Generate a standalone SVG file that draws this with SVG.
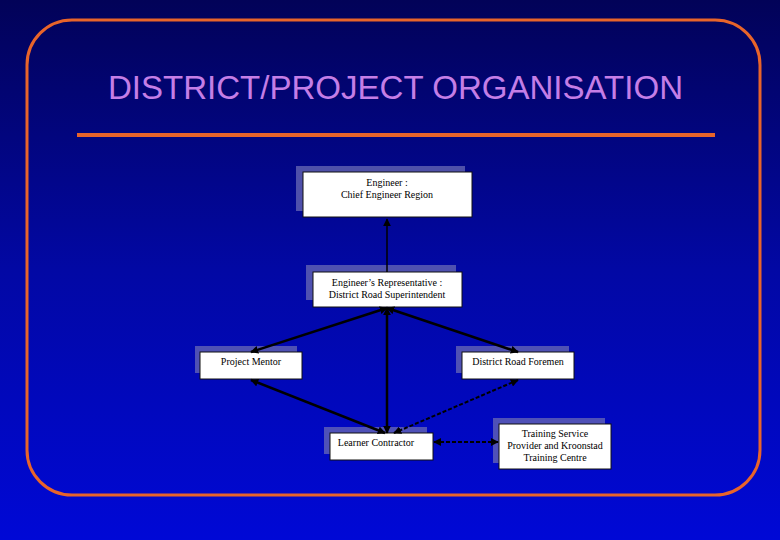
<svg xmlns="http://www.w3.org/2000/svg" width="780" height="540" viewBox="0 0 780 540">
<defs>
  <linearGradient id="bg" x1="0" y1="0" x2="0" y2="1">
    <stop offset="0" stop-color="#020258"/>
    <stop offset="0.5" stop-color="#0208a4"/>
    <stop offset="1" stop-color="#0008d6"/>
  </linearGradient>
  <marker id="ah" viewBox="0 0 10 10" refX="9" refY="5" markerWidth="8" markerHeight="8" markerUnits="userSpaceOnUse" orient="auto-start-reverse">
    <path d="M0,0 L10,5 L0,10 z" fill="#000"/>
  </marker>
  <style>
    .shadow{fill:#6a6ab4;opacity:0.75}
    .box{fill:#fff;stroke:#111;stroke-width:1}
    .lbl{font-family:"Liberation Serif","Times New Roman",serif;font-size:10px;fill:#000;text-anchor:middle}
    .c{fill:none;stroke:#000;stroke-width:2.5}
    .thin{fill:none;stroke:#000;stroke-width:1.5}
    .dash{fill:none;stroke:#000;stroke-width:2;stroke-dasharray:4 2}
  </style>
</defs>
<rect x="0" y="0" width="780" height="540" fill="url(#bg)"/>
<rect x="27" y="20" width="733" height="475" rx="45" ry="45" fill="none" stroke="#e8642a" stroke-width="3"/>
<text x="395.5" y="99" font-family="'Liberation Sans', Arial, sans-serif" font-size="32.5" fill="#c47ee6" text-anchor="middle" textLength="575" lengthAdjust="spacingAndGlyphs">DISTRICT/PROJECT ORGANISATION</text>
<line x1="77" y1="135" x2="715" y2="135" stroke="#e8642a" stroke-width="4"/>

<g id="engineer">
  <rect class="shadow" x="296" y="166" width="169" height="45"/>
  <rect class="box" x="303" y="172" width="169" height="45"/>
  <text class="lbl" x="387" y="186">Engineer :</text>
  <text class="lbl" x="387" y="198">Chief Engineer Region</text>
</g>
<g id="engineers-rep">
  <rect class="shadow" x="306" y="265" width="150" height="35"/>
  <rect class="box" x="313" y="272" width="149" height="35"/>
  <text class="lbl" x="387" y="286">Engineer’s Representative :</text>
  <text class="lbl" x="387" y="298">District Road Superintendent</text>
</g>
<g id="project-mentor">
  <rect class="shadow" x="195" y="346" width="102" height="27"/>
  <rect class="box" x="200" y="352" width="102" height="27"/>
  <text class="lbl" x="251" y="365">Project Mentor</text>
</g>
<g id="district-road-foremen">
  <rect class="shadow" x="456" y="346" width="113" height="27"/>
  <rect class="box" x="462" y="352" width="112" height="27"/>
  <text class="lbl" x="518" y="365">District Road Foremen</text>
</g>
<g id="learner-contractor">
  <rect class="shadow" x="324" y="427" width="103" height="27"/>
  <rect class="box" x="330" y="433" width="103" height="27"/>
  <text class="lbl" x="376" y="446">Learner Contractor</text>
</g>
<g id="training-provider">
  <rect class="shadow" x="493" y="418" width="112" height="45"/>
  <rect class="box" x="499" y="424" width="112" height="45"/>
  <text class="lbl" x="555" y="437">Training Service</text>
  <text class="lbl" x="555" y="449">Provider and Kroonstad</text>
  <text class="lbl" x="555" y="461">Training Centre</text>
</g>

<g id="connectors">
  <line class="thin" x1="387" y1="272" x2="387" y2="219" marker-end="url(#ah)"/>
  <line class="c" x1="387" y1="308" x2="251" y2="352" marker-start="url(#ah)" marker-end="url(#ah)"/>
  <line class="c" x1="387" y1="308" x2="518" y2="352" marker-start="url(#ah)" marker-end="url(#ah)"/>
  <line class="c" x1="387" y1="308" x2="387" y2="433" marker-start="url(#ah)" marker-end="url(#ah)"/>
  <line class="c" x1="251" y1="380" x2="385" y2="433" marker-start="url(#ah)" marker-end="url(#ah)"/>
  <line class="dash" x1="518" y1="380" x2="394" y2="433" marker-start="url(#ah)" marker-end="url(#ah)"/>
  <line class="dash" x1="434" y1="442" x2="498" y2="442" marker-start="url(#ah)" marker-end="url(#ah)"/>
</g>
</svg>
